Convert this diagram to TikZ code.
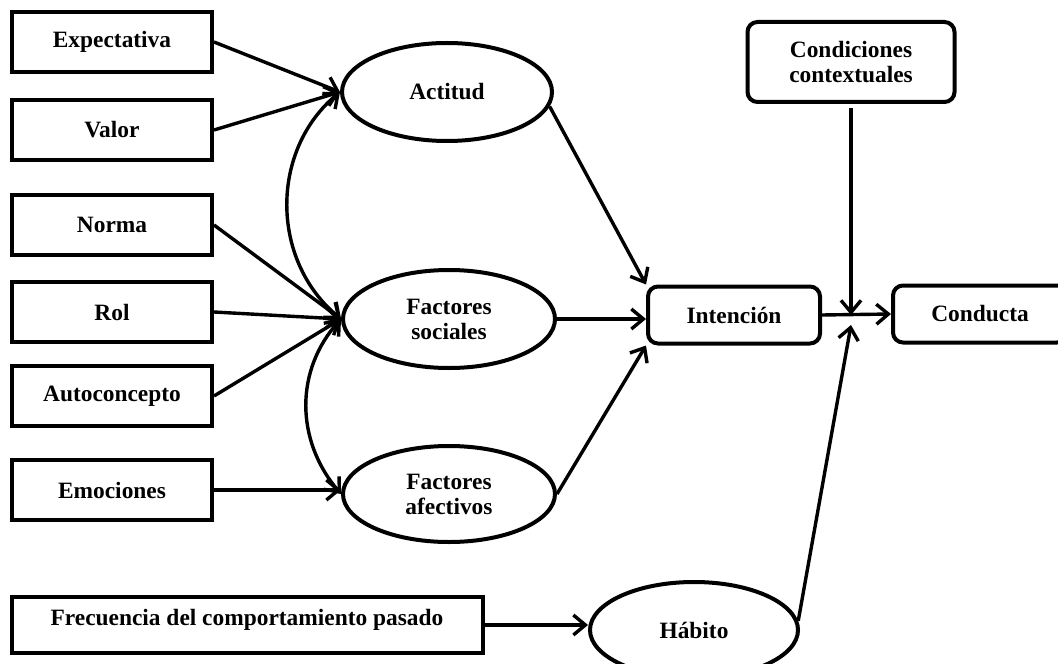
\documentclass[tikz,border=0pt]{standalone}
\usepackage{fontspec}
\setmainfont{Liberation Serif}
\usetikzlibrary{shapes.geometric,arrows.meta}

\tikzset{
    caja/.style={draw, line width=2pt, minimum width=100pt, minimum height=30pt, inner sep=0pt},
    elipse/.style={draw, ellipse, line width=2pt, minimum width=105pt, minimum height=49pt, inner sep=0pt, align=center},
    redonda/.style={draw, rounded corners=5pt, line width=2pt, minimum height=28.5pt, inner sep=0pt, align=center},
    punta/.tip={Straight Barb[length=6pt,width=10pt,line width=1.7pt]},
    flecha/.style={-punta, line width=1.7pt},
    dobleflecha/.style={punta-punta, line width=1.7pt},
}

\begin{document}
\begin{tikzpicture}[x=0.5pt, y=-0.5pt, font=\bfseries\fontsize{11.7}{12.5}\selectfont]
        \clip (0, 0) rectangle (1058, 663);

        \node[caja] (Exp) at (112, 42) {Expectativa};
        \node[caja] (Val) at (112, 130) {Valor};
        \node[caja] (Nor) at (112, 225) {Norma};
        \node[caja] (Rol) at (112, 312) {Rol};
        \node[caja] (Aut) at (112, 396) {Autoconcepto};
        \node[caja] (Emo) at (112, 490) {Emociones};
        \node[caja, minimum width=235.5pt, minimum height=28pt, text depth=8pt] (Frec) at (247, 625) {Frecuencia del comportamiento pasado};

        \node[elipse] (Act) at (447, 92) {Actitud};
        \node[elipse, minimum width=106pt] (FS) at (449, 319) {Factores\\sociales};
        \node[elipse, minimum width=106pt, minimum height=48pt] (FA) at (449, 494) {Factores\\afectivos};
        \node[elipse, minimum width=104pt, minimum height=48pt] (Hab) at (694, 630) {Hábito};

        \node[redonda, minimum width=86pt] (Int) at (734, 315) {Intención};
        \node[redonda, minimum width=87pt] (Con) at (980, 314) {Conducta};
        \node[redonda, minimum width=103.5pt, minimum height=40pt] (Cond) at (851, 62) {Condiciones\\contextuales};

        \coordinate (J) at (Cond.south |- Int.east);

        \draw[flecha] (Exp.east) -- (Act.west);
        \draw[flecha] (Val.east) -- (Act.west);
        \draw[flecha] (Nor.east) -- (FS.west);
        \draw[flecha] (Rol.east) -- (FS.west);
        \draw[flecha] (Aut.east) -- (FS.west);
        \draw[flecha] (Emo.east) -- (Emo.east -| FA.west);
        \draw[flecha] (Frec.east) -- (Frec.east -| Hab.west);

        \draw[dobleflecha] (Act.west) .. controls (270, 150) and (270, 260) .. (FS.west);
        \draw[dobleflecha] (FS.west) .. controls (295, 370) and (295, 440) .. (FA.west);

        \draw[flecha] (Act.-8) -- (Int.north west);
        \draw[flecha] (FS.east) -- (FS.east -| Int.west);
        \draw[flecha] (FA.east) -- (Int.south west);

        \draw[flecha] (Int.east) -- (Con.west);
        \draw[flecha] ([yshift=-2pt]Cond.south) -- (J);
        \draw[flecha] (Hab.5) -- ([yshift=-5pt]J);
    \end{tikzpicture}
\end{document}
